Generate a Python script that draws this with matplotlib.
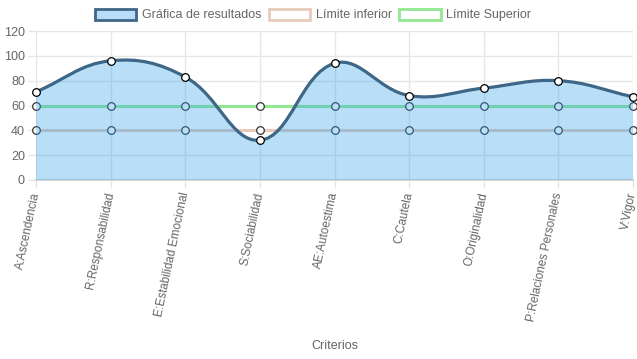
import numpy as np
import matplotlib
matplotlib.use("Agg")
import matplotlib.pyplot as plt
from matplotlib.path import Path
from matplotlib.patches import PathPatch, Patch

plt.rcParams['font.family'] = ['Liberation Sans', 'DejaVu Sans']

criterios = ["A:Ascendencia", "R:Responsabilidad", "E:Estabilidad Emocional",
             "S:Sociabilidad", "AE:Autoestima", "C:Cautela", "O:Originalidad",
             "P:Relaciones Personales", "V:Vigor"]
resultados = [71, 96, 83, 32, 94, 68, 74, 80, 67]
limite_inferior = [40, 40, 40, 40, 40, 40, 40, 40, 40]
limite_superior = [60, 60, 60, 60, 60, 60, 60, 60, 60]

main_line = "#3e6687"
fill_col = (54/255, 162/255, 235/255, 0.35)
low_col = "#e8cbbb"
up_col = "#90e890"
grid_col = "#e6e6e6"
text_col = "#666666"


def spline_path(ax, xs, ys, tension=0.4):
    # Chart.js style bezier, control points computed in pixel space
    pts = ax.transData.transform(np.column_stack([xs, ys]))
    n = len(pts)
    verts = [pts[0]]
    codes = [Path.MOVETO]
    cps = []
    for i in range(n):
        prev = pts[i - 1] if i > 0 else pts[i]
        cur = pts[i]
        nxt = pts[i + 1] if i < n - 1 else pts[i]
        d01 = np.hypot(*(cur - prev))
        d12 = np.hypot(*(nxt - cur))
        tot = d01 + d12
        s01 = d01 / tot if tot else 0
        s12 = d12 / tot if tot else 0
        fa = tension * s01
        fb = tension * s12
        cps.append((cur - fa * (nxt - prev), cur + fb * (nxt - prev)))
    for i in range(1, n):
        verts += [cps[i - 1][1], cps[i][0], pts[i]]
        codes += [Path.CURVE4] * 3
    verts = ax.transData.inverted().transform(np.array(verts))
    return verts, codes


fig = plt.figure(figsize=(6.37, 3.59), dpi=100)
ax = fig.add_axes([36 / 637, 1 - 180 / 359, (633 - 36) / 637, 149 / 359])
x = np.arange(len(criterios))
ax.set_xlim(0, len(criterios) - 1)
ax.set_ylim(0, 120)

# limit lines (under the fill)
ax.plot(x, limite_superior, color=up_col, lw=2.2, zorder=2, clip_on=False,
        marker="o", ms=5.5, mfc="white", mec="#333333", mew=0.9)
ax.plot(x, limite_inferior, color=low_col, lw=2.2, zorder=2, clip_on=False,
        marker="o", ms=5.5, mfc="white", mec="#333333", mew=0.9)

# main smooth curve and fill
verts, codes = spline_path(ax, x, resultados)
fill_verts = np.vstack([verts, [[x[-1], 0], [x[0], 0], verts[0]]])
fill_codes = codes + [Path.LINETO, Path.LINETO, Path.CLOSEPOLY]
ax.add_patch(PathPatch(Path(fill_verts, fill_codes), facecolor=fill_col,
                       edgecolor="none", zorder=3))
ax.add_patch(PathPatch(Path(verts, codes), facecolor="none", edgecolor=main_line,
                       lw=2.3, zorder=4, capstyle="round", joinstyle="round"))
ax.plot(x, resultados, ls="none", marker="o", ms=5.5, mfc="white", mec="black",
        mew=0.9, zorder=5, clip_on=False)

# axes styling
ax.set_yticks(np.arange(0, 121, 20))
ax.set_xticks(x)
ax.set_xticklabels(criterios, rotation=78, ha="right", va="center",
                   rotation_mode="anchor", fontsize=8.5)
ax.grid(True, color=grid_col, lw=1, zorder=0)
for s in ["top", "right", "left"]:
    ax.spines[s].set_visible(False)
ax.spines["bottom"].set_color("#d0d0d0")
ax.spines["bottom"].set_linewidth(1.2)
ax.tick_params(axis="both", colors=grid_col, length=6, width=1,
               labelcolor=text_col)
ax.tick_params(axis="y", pad=2, labelsize=9)
ax.tick_params(axis="x", pad=3)
ax.set_xlabel("Criterios", color=text_col, fontsize=9, va="center")
ax.xaxis.set_label_coords(0.5, -166 / 149)

handles = [
    Patch(facecolor="#b9dcf8", edgecolor=main_line, lw=2),
    Patch(facecolor="white", edgecolor=low_col, lw=2),
    Patch(facecolor="white", edgecolor=up_col, lw=2),
]
fig.legend(handles, ["Gráfica de resultados", "Límite inferior", "Límite Superior"],
           loc="center", bbox_to_anchor=(313 / 637, 1 - 15 / 359), ncol=3,
           frameon=False, fontsize=9, handlelength=3.3, handleheight=1.0,
           handletextpad=0.45, columnspacing=0.6, labelcolor=text_col)

fig.savefig("out.png", dpi=100)
